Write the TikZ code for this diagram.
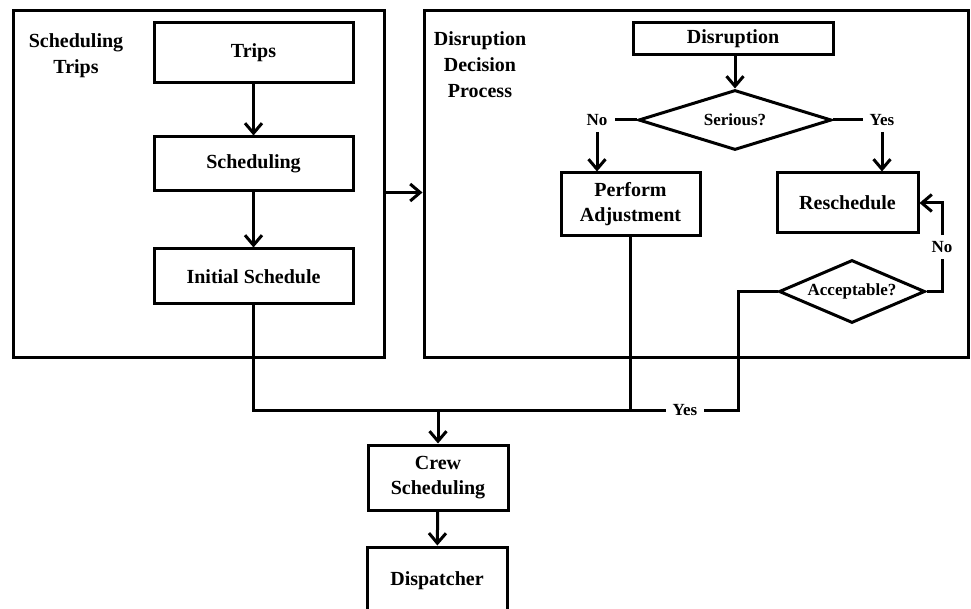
\documentclass[tikz,border=0pt]{standalone}
\usepackage{fontspec}
\setmainfont{Liberation Serif}
\usetikzlibrary{shapes.geometric,arrows.meta}
\begin{document}
\begin{tikzpicture}[x=1pt,y=-1pt,
  lw/.style={line width=3pt},
  box/.style={draw,lw,align=center,inner sep=2pt,font=\bfseries\fontsize{20}{25}\selectfont},
  dia/.style={draw,lw,diamond,inner sep=0pt,font=\bfseries\fontsize{17}{20}\selectfont},
  lbl/.style={font=\bfseries\fontsize{17}{20}\selectfont,inner xsep=7pt,inner ysep=6pt},
  ttl/.style={align=center,font=\bfseries\fontsize{20}{26}\selectfont,anchor=north,inner sep=0pt},
  arr/.style={lw,-{Straight Barb[length=10pt,width=17pt]}},
  ln/.style={lw}]
\useasboundingbox (0,0) rectangle (971,609);
\clip (0,0) rectangle (971,609);
\node[box,minimum width=371pt,minimum height=346pt] (leftbox) at (198.5,184) {};
\node[box,minimum width=544pt,minimum height=346pt] (rightbox) at (696,184) {};
\node[ttl] (t1) at (76,33) {Scheduling\\Trips};
\node[ttl] (t2) at (480,31) {Disruption\\Decision\\Process};
\node[box,minimum width=199pt,minimum height=60pt] (trips) at (253.5,53) {Trips};
\node[box,minimum width=199pt,minimum height=54pt] (sched) at (253.5,164) {Scheduling};
\node[box,minimum width=199pt,minimum height=55pt] (init) at (253.5,276.5) {Initial Schedule};
\node[box,minimum width=200pt,minimum height=32pt] (disr) at (733,39) {Disruption};
\node[dia,minimum width=193pt,minimum height=60pt,shape aspect=3.2] (ser) at (735,120) {Serious?};
\node[box,minimum width=139pt,minimum height=63pt] (perf) at (630.5,204.5) {Perform\\Adjustment};
\node[box,minimum width=141pt,minimum height=60pt] (resch) at (847.5,203) {Reschedule};
\node[dia,minimum width=146pt,minimum height=63pt,shape aspect=2.3] (acc) at (852,291.5) {Acceptable?};
\node[box,minimum width=140pt,minimum height=65pt] (crew) at (438,477.5) {Crew\\Scheduling};
\node[box,minimum width=140pt,minimum height=68pt] (disp) at (437,581) {Dispatcher};
\node[lbl] (noA) at (597,120) {No};
\node[lbl] (yesA) at (882,120) {Yes};
\node[lbl] (noB) at (942,247) {No};
\node[lbl] (yesB) at (685,410) {Yes};
\draw[arr] (trips) -- (sched);
\draw[arr] (sched) -- (init);
\draw[arr] (leftbox.east |- sched.south) -- (rightbox.west |- sched.south);
\draw[arr] (disr.south -| ser.north) -- (ser.north);
\draw[ln] (ser.west) -- (noA.east);
\draw[arr] (noA.south) -- (noA.south |- perf.north);
\draw[ln] (ser.east) -- (yesA.west);
\draw[arr] (yesA.south) -- (yesA.south |- resch.north);
\draw[ln] (acc.east) -| (noB.south);
\draw[arr] (noB.north) |- (resch.east);
\draw[ln] (acc.west) -- ++(-39,0) |- (yesB.east);
\draw[ln] (init.south) |- (yesB.west);
\draw[ln] (perf.south) -- (perf.south |- yesB.west);
\draw[arr] (crew.north |- yesB.west) -- (crew.north);
\draw[arr] (crew) -- (disp);
\end{tikzpicture}
\end{document}
